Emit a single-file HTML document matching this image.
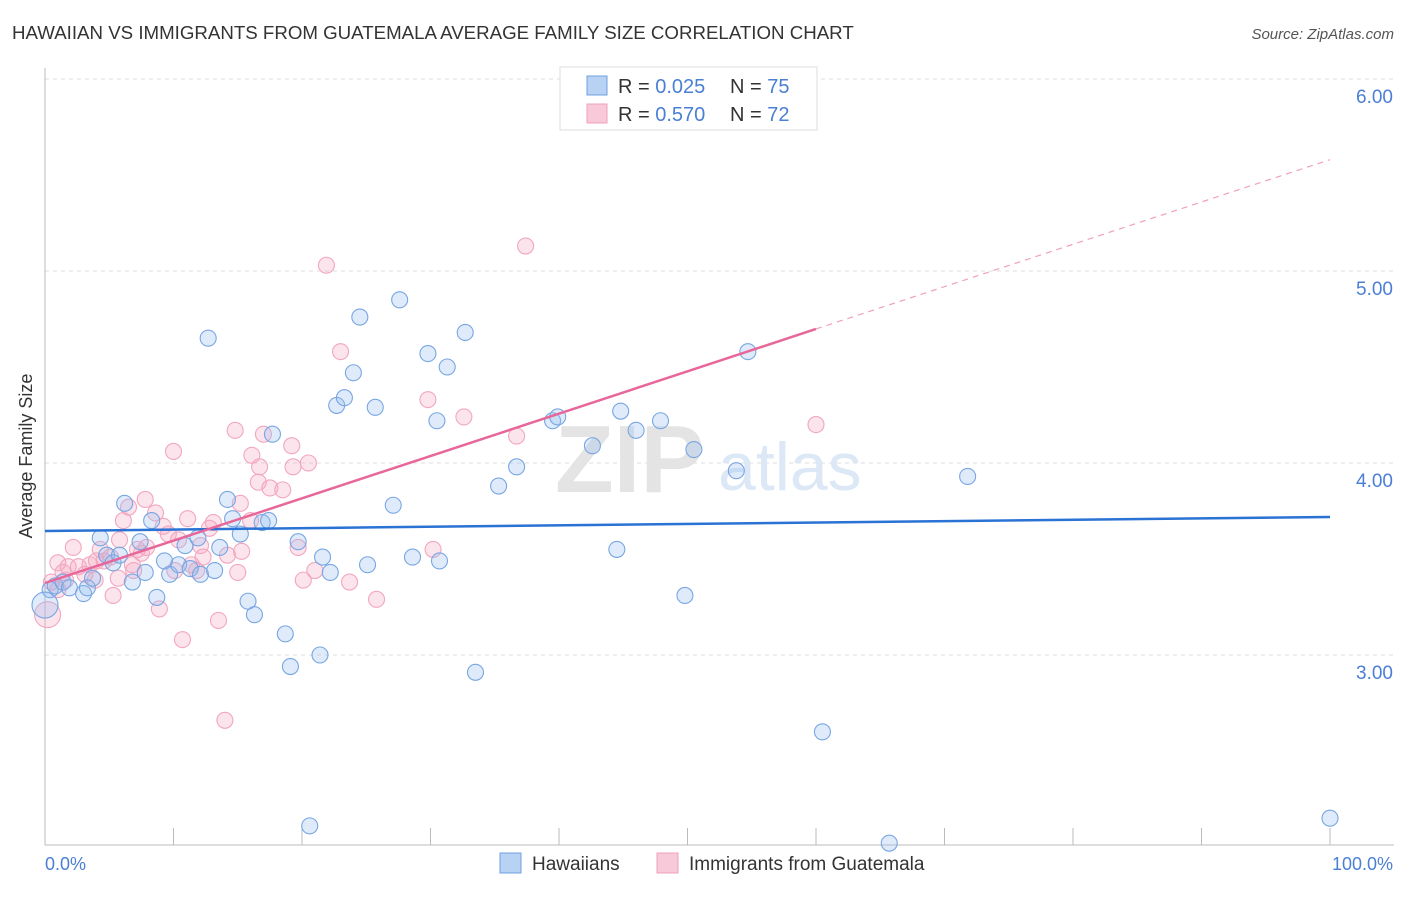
<!DOCTYPE html>
<html><head><meta charset="utf-8">
<style>
body{margin:0;background:#fff;font-family:"Liberation Sans",sans-serif;}
svg text{font-family:"Liberation Sans",sans-serif;}
</style></head>
<body>
<svg id="chart" width="1406" height="892" xmlns="http://www.w3.org/2000/svg">
<text x="12" y="39" font-size="18.7" fill="#333">HAWAIIAN VS IMMIGRANTS FROM GUATEMALA AVERAGE FAMILY SIZE CORRELATION CHART</text>
<text x="1394" y="39" font-size="15" fill="#555" font-style="italic" text-anchor="end">Source: ZipAtlas.com</text>
<g id="grid"></g>
<text x="555" y="492" font-size="96" fill="#e4e4e4" font-family="Liberation Serif" font-weight="bold">ZIP</text>
<text x="718" y="490" font-size="68" fill="#dce8f6">atlas</text>
<g id="axes"></g>
<g id="pts"></g>
<g id="lines"></g>
<text x="32" y="456" font-size="18" fill="#333" text-anchor="middle" transform="rotate(-90 32 456)">Average Family Size</text>
<text x="45" y="870" font-size="18" fill="#4a7fd4">0.0%</text>
<text x="1393" y="870" font-size="18" fill="#4a7fd4" text-anchor="end">100.0%</text>
<g>
<rect x="560" y="67" width="257" height="63" fill="#fff" stroke="#ddd"/>
<rect x="587" y="76" width="20" height="19" fill="#b7d2f3" stroke="#6fa0e0"/>
<rect x="587" y="104" width="20" height="19" fill="#f8c9d8" stroke="#f0a0bb"/>
<text x="618" y="93" font-size="20" fill="#333">R = <tspan fill="#4a7fd4">0.025</tspan><tspan x="730">N = </tspan><tspan fill="#4a7fd4">75</tspan></text>
<text x="618" y="121" font-size="20" fill="#333">R = <tspan fill="#4a7fd4">0.570</tspan><tspan x="730">N = </tspan><tspan fill="#4a7fd4">72</tspan></text>
</g>
<g>
<rect x="500" y="853" width="21" height="20" fill="#b7d2f3" stroke="#6fa0e0"/>
<text x="532" y="870" font-size="19" fill="#333">Hawaiians</text>
<rect x="657" y="853" width="21" height="20" fill="#f8c9d8" stroke="#f0a0bb"/>
<text x="689" y="870" font-size="19" fill="#333">Immigrants from Guatemala</text>
</g>
</svg>
<script>
const yTicks=[3,4,5,6];
const yTickLabels=["3.00","4.00","5.00","6.00"];
const xTicks=[0,10,20,30,40,50,60,70,80,90,100];
const blueX=[0.4,0.8,1.4,1.9,3.0,3.3,3.7,4.3,4.8,5.3,5.8,6.2,6.8,7.4,7.8,8.3,8.7,9.3,9.7,10.4,10.9,11.3,11.9,12.1,12.7,13.2,13.6,14.2,14.6,15.2,15.8,16.3,16.9,17.4,17.7,18.7,19.1,19.7,20.6,21.4,21.6,22.2,22.7,23.3,24.0,24.5,25.1,25.7,27.1,27.6,28.6,29.8,30.5,30.7,31.3,32.7,33.5,35.3,36.7,39.5,39.9,42.6,44.5,44.8,46.0,47.9,49.8,50.5,53.8,54.7,60.5,65.7,71.8,100,0];
const blueY=[3.34,3.36,3.38,3.35,3.32,3.35,3.40,3.61,3.52,3.48,3.52,3.79,3.38,3.59,3.43,3.70,3.30,3.49,3.42,3.47,3.57,3.45,3.61,3.42,4.65,3.44,3.56,3.81,3.71,3.63,3.28,3.21,3.69,3.70,4.15,3.11,2.94,3.59,2.11,3.00,3.51,3.43,4.30,4.34,4.47,4.76,3.47,4.29,3.78,4.85,3.51,4.57,4.22,3.49,4.50,4.68,2.91,3.88,3.98,4.22,4.24,4.09,3.55,4.27,4.17,4.22,3.31,4.07,3.96,4.58,2.60,2.02,3.93,2.15,3.26];
const pinkX=[0.2,0.5,1.0,1.4,1.8,2.2,2.6,3.1,3.5,3.9,4.3,4.6,5.1,5.3,5.7,6.1,6.5,6.8,7.2,7.5,7.9,8.6,8.9,9.2,9.6,10.0,10.4,10.7,11.1,11.4,11.8,12.3,12.8,13.1,13.5,14.0,14.2,14.8,15.0,15.2,15.3,16.1,16.6,16.7,17.0,17.5,18.5,19.2,19.3,19.7,20.1,20.5,21.0,21.9,23.0,23.7,25.8,29.8,30.2,32.6,36.7,37.4,60.0,1.0,1.6,5.8,10.1,12.1,7.8,4.0,6.9,16.0];
const pinkY=[3.21,3.38,3.48,3.43,3.46,3.56,3.46,3.42,3.47,3.39,3.55,3.49,3.51,3.31,3.40,3.70,3.77,3.47,3.55,3.53,3.56,3.74,3.24,3.67,3.63,4.06,3.60,3.08,3.71,3.47,3.44,3.51,3.66,3.69,3.18,2.66,3.52,4.17,3.43,3.79,3.54,4.04,3.90,3.98,4.15,3.87,3.86,4.09,3.98,3.56,3.39,4.00,3.44,5.03,4.58,3.38,3.29,4.33,3.55,4.24,4.14,5.13,4.20,3.34,3.39,3.60,3.44,3.57,3.81,3.49,3.44,3.70];
const blueTrend=[3.646,3.719];
const pinkTrend=[3.375,5.58];
const pinkSolidEnd=60;

const NS="http://www.w3.org/2000/svg";
const X0=45,X1=1330,YB=655,PPU=192;
function sx(v){return X0+(X1-X0)*v/100;}
function sy(v){return YB-(v-3)*PPU;}
function mk(tag,attrs,parent){const e=document.createElementNS(NS,tag);for(const k in attrs)e.setAttribute(k,attrs[k]);parent.appendChild(e);return e;}
const grid=document.getElementById('grid'),axes=document.getElementById('axes'),pts=document.getElementById('pts'),lines=document.getElementById('lines');
yTicks.forEach((t,i)=>{
  const l=mk('line',{x1:X0,x2:1394,y1:sy(t),y2:sy(t),stroke:'#ddd','stroke-dasharray':'4,4'},grid);
  
  
  const tx=mk('text',{x:1393,y:sy(t)+24,'font-size':19,fill:'#4a7fd4','text-anchor':'end'},axes);
  tx.textContent=yTickLabels[i];
  
  
});
const la=mk('line',{x1:X0,x2:X0,y1:68,y2:845,stroke:'#bbb'},axes);


const lb=mk('line',{x1:X0,x2:1394,y1:845,y2:845,stroke:'#bbb'},axes);


xTicks.forEach(t=>{
  const l=mk('line',{x1:sx(t),x2:sx(t),y1:828,y2:845,stroke:'#bbb'},axes);
  
  
});
function drawPts(xs,ys,fill,stroke,name){
  xs.forEach((x,i)=>{
    const r=(i===xs.length-1&&name==='hawaiian-point')||(i===0&&name==='guatemala-point')?13:8;
    const c=mk('circle',{cx:sx(x),cy:sy(ys[i]),r:r,fill:fill,stroke:stroke,'stroke-width':1.1},pts);
    
    
  });
}
drawPts(pinkX,pinkY,'rgba(245,165,192,0.3)','#f2a6c0','guatemala-point');
drawPts(blueX,blueY,'rgba(150,190,240,0.3)','#78a6e2','hawaiian-point');
const bl=mk('line',{x1:sx(0),y1:sy(blueTrend[0]),x2:sx(100),y2:sy(blueTrend[1]),stroke:'#2a72d4','stroke-width':2.5},lines);


function py(x){return pinkTrend[0]+(pinkTrend[1]-pinkTrend[0])*x/100;}
const pl=mk('line',{x1:sx(0),y1:sy(py(0)),x2:sx(pinkSolidEnd),y2:sy(py(pinkSolidEnd)),stroke:'#e8679a','stroke-width':2.5},lines);


const pd=mk('line',{x1:sx(pinkSolidEnd),y1:sy(py(pinkSolidEnd)),x2:sx(100),y2:sy(py(100)),stroke:'#f0a0bb','stroke-width':1.2,'stroke-dasharray':'6,5'},lines);


</script>
</body></html>
